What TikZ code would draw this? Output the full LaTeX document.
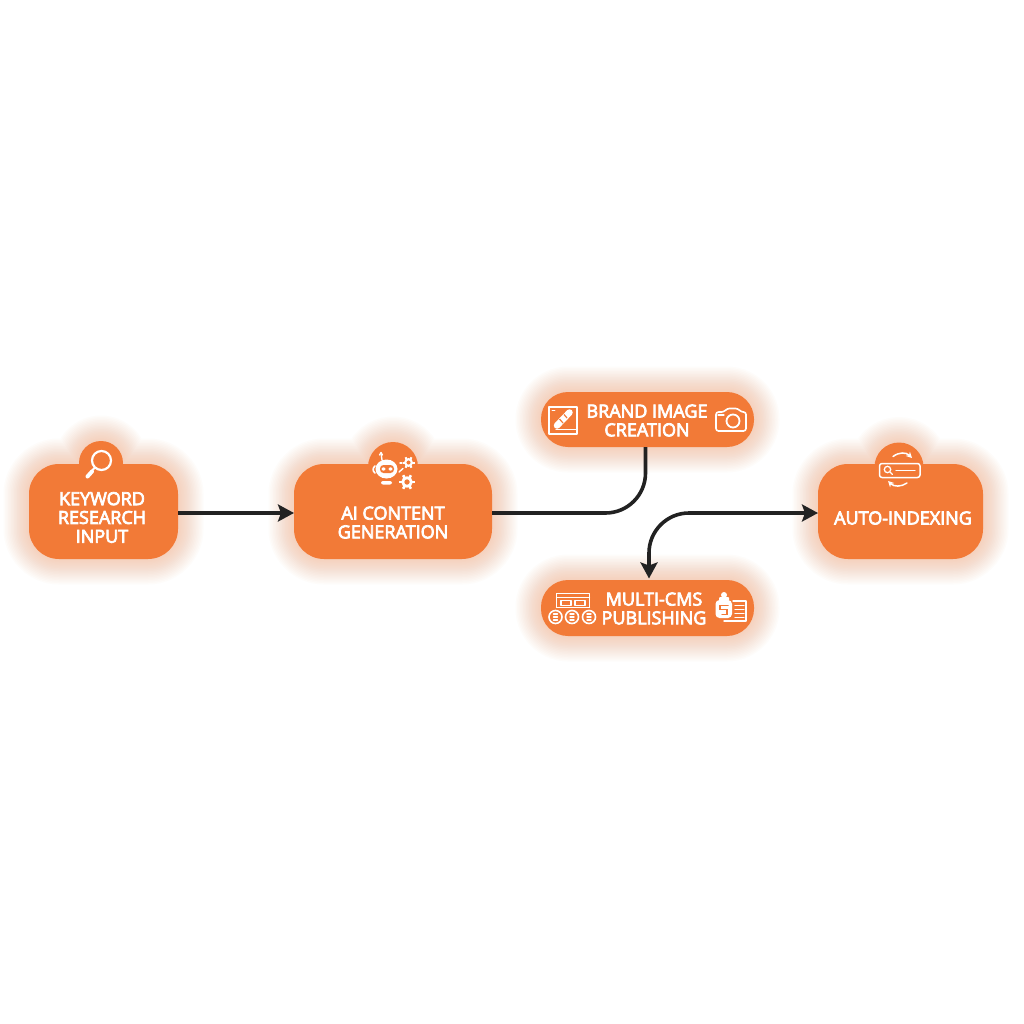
\documentclass[tikz,border=0pt]{standalone}
\usepackage{fontspec}
\setmainfont{Open Sans}
\newfontfamily\lblfont{Open Sans}[FakeBold=4]
\usetikzlibrary{arrows.meta,calc}
\definecolor{boxc}{HTML}{F27A37}
\definecolor{glowc}{HTML}{F58A50}
\definecolor{linec}{HTML}{222222}
\newcommand\glowpath[1]{\foreach \w in {3,6,...,51}{\path[draw=glowc,draw opacity=.022,line width=\w pt,line join=round] #1;}}
\newcommand\gearicon[4]{\foreach \a in {0,60,...,300}{\draw[icon,line width=#4,line cap=butt] ($(#1,#2)+(\a:#3*0.7)$) -- ($(#1,#2)+(\a:#3*1.2)$);}
  \draw[icon,line width=#3*0.42 pt] (#1,#2) circle[radius=#3*0.66];}
\tikzset{
  x=1pt,y=-1pt,
  boxnode/.style={fill=boxc,draw=none,inner sep=0pt,outer sep=0pt,minimum width=#1},
  tabnode/.style={fill=boxc,draw=none,circle,inner sep=0pt,outer sep=0pt,minimum size=#1},
  label/.style={text=white,font=\lblfont\fontsize{18}{18.8}\selectfont,align=center,inner sep=0pt},
  conn/.style={draw=linec,line width=3.6pt},
  tip/.style={-{Stealth[length=16pt,width=17pt,inset=3pt]}},
  icon/.style={draw=white,line width=1.6pt,line cap=round,line join=round},
}
\begin{document}
\begin{tikzpicture}
\fill[white] (0,0) rectangle (1024,1024);
\useasboundingbox (0,0) rectangle (1024,1024);
% glows
\glowpath{[rounded corners=30pt] (29,464) rectangle (178,559) (101,463) circle[radius=22]}
\glowpath{[rounded corners=30pt] (294,464) rectangle (492,559) (393,467) circle[radius=25]}
\glowpath{[rounded corners=27pt] (541,392) rectangle (754,447)}
\glowpath{[rounded corners=27pt] (541,580) rectangle (754,636)}
\glowpath{[rounded corners=30pt] (818,464) rectangle (983,559) (899,467) circle[radius=24.5]}
% tabs
\node[tabnode=44pt] (kwtab) at (101,463) {};
\node[tabnode=50pt] (aitab) at (393,467) {};
\node[tabnode=49pt] (ixtab) at (899,467) {};
% boxes
\node[boxnode=149pt,minimum height=95pt,rounded corners=30pt] (kw) at (103.5,511.5) {};
\node[boxnode=198pt,minimum height=95pt,rounded corners=30pt] (ai) at (393,511.5) {};
\node[boxnode=213pt,minimum height=55pt,rounded corners=27pt] (br) at (647.5,419.5) {};
\node[boxnode=213pt,minimum height=56pt,rounded corners=27pt] (ms) at (647.5,608) {};
\node[boxnode=165pt,minimum height=95pt,rounded corners=30pt] (ix) at (900.5,511.5) {};
% connectors
\draw[conn,tip] ([yshift=-1.5pt]kw.east) -- ([yshift=-1.5pt]ai.west);
\draw[conn,rounded corners=40pt] ([yshift=-1.5pt]ai.east) -| ([xshift=-2pt]br.south);
\draw[conn,{Stealth[length=16pt,width=17pt,inset=3pt]}-{Stealth[length=16pt,width=17pt,inset=3pt]},rounded corners=40pt] ([xshift=1.5pt,yshift=1.5pt]ms.north) |- ([yshift=-1.5pt]ix.west);
% labels
\node[label] (kwt) at (102,517.5) {KEYWORD\\RESEARCH\\INPUT};
\node[label] (ait) at (393,522.5) {AI CONTENT\\GENERATION};
\node[label] (brt) at (647,420.5) {BRAND IMAGE\\CREATION};
\node[label] (mst) at (654,608.5) {MULTI-CMS\\PUBLISHING};
\node[label] (ixt) at (903,518) {AUTO-INDEXING};
% magnifier
\draw[icon,line width=2.2pt] (101.5,460.5) circle[radius=9.5];
\draw[icon,line width=2pt] (95,467.5) -- (92,470.5);
\draw[icon,line width=4pt] (92,471.5) -- (87.5,476.5);
% robot
\fill[white] (386.5,469) ellipse[x radius=11,y radius=9.5];
\fill[boxc,rounded corners=3.5pt] (380,465) rectangle (394,473);
\fill[white] (383.5,469) ellipse[x radius=2,y radius=1.6] (390.5,469) ellipse[x radius=2,y radius=1.6];
\draw[icon,line width=1.4pt] (382,460) -- (381,453);
\draw[icon,line width=1.3pt] (379.5,455) -- (381,452.5) -- (382.5,455);
\draw[icon,line width=1.6pt] (375,466) .. controls (372.5,468) and (372.5,471) .. (375,473);
\fill[white,rounded corners=2pt] (381,481) rectangle (392,484.5);
\draw[icon,line width=1.4pt] (399,472) -- (403,468.5);
\draw[icon,line width=1.4pt] (400,463) -- (402,463);
\gearicon{408.5}{462.5}{5}{2pt}
\gearicon{407}{482}{6.5}{2.6pt}
% brand image icon
\draw[icon,line width=1.3pt] (549,407) rectangle (577,434);
\draw[icon,line width=1.2pt] (556,429.5) -- (576,429.5);
\draw[icon,line width=.9pt] (552,410) -- (555,410);
\draw[icon,line width=6.5pt] (557,425.5) -- (569.5,412.5);
\draw[boxc,line width=1.2pt] (559.5,419) -- (563,423) (564,414.5) -- (567,418);
% camera icon
\draw[icon,rounded corners=2.5pt] (716,412) -- (724,412) -- (727,408.5) -- (738,408.5) -- (741,412) -- (746,412) -- (746,431) -- (716,431) -- cycle;
\draw[icon,line width=1.8pt] (733,421) circle[radius=6.5];
\draw[icon,line width=1.2pt] (718,415) -- (724,415);
% cms window
\draw[icon,line width=1.3pt] (556.5,607) -- (556.5,593.5) -- (589.5,593.5) -- (589.5,607);
\draw[icon,line width=1.3pt] (556.5,597.5) -- (589.5,597.5);
\draw[icon,line width=1.2pt] (561,600.5) rectangle (571,605.5);
\draw[icon,line width=1.2pt] (575,600.5) rectangle (585,605.5);
\draw[icon,line width=1.2pt] (556.5,607.5) -- (589.5,607.5);
\foreach \cx in {555.5,572,589}{
  \draw[icon,line width=1.6pt] (\cx,617) circle[radius=6.5];
  \draw[icon,line width=1.4pt] (\cx-2,614) -- (\cx+2,614) (\cx-2,617) -- (\cx+2,617) (\cx-2,620) -- (\cx+2,620);
}
% cms right icon
\fill[white,rounded corners=4pt] (715.5,600) rectangle (732,618);
\fill[white] (724,595) circle[radius=3];
\fill[white,rounded corners=1pt] (719,597) rectangle (729,601);
\draw[boxc,line width=1.5pt,line cap=round] (728,605.5) -- (720,605.5) -- (720,609.5) -- (727,609.5) -- (727,614.5) -- (722,614.5);
\draw[icon,line width=1.4pt] (733,601) -- (746,601) -- (746,621) -- (724,621);
\draw[icon,line width=1.3pt] (735,605.5) -- (744,605.5) (735,609.5) -- (744,609.5) (735,613.5) -- (744,613.5) (735,617.5) -- (744,617.5);
% auto-index icon
\draw[icon,line width=1.5pt,rounded corners=2.5pt] (879.5,463.5) rectangle (920,477.5);
\draw[icon,line width=1.3pt] (887.5,469.5) circle[radius=3.2];
\draw[icon,line width=1.3pt] (890,472) -- (892.5,474.5);
\draw[icon,line width=1.4pt] (896,470.5) -- (915,470.5);
\draw[icon,line width=1.5pt,-{Stealth[length=6pt,width=6pt]}] (893,456.5) .. controls (899,452) and (906,452) .. (912,458);
\draw[icon,line width=1.5pt,-{Stealth[length=6pt,width=6pt]}] (907,483) .. controls (901,487) and (894,487) .. (888,481);
\end{tikzpicture}
\end{document}
